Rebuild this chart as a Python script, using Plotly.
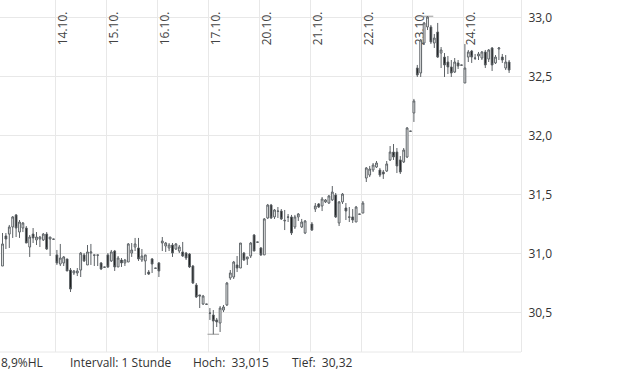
import plotly.graph_objects as go

# hourly candles, 15 per trading day (index 0 = first visible candle on 13.10.)
day_labels = ["14.10.", "15.10.", "16.10.", "17.10.", "20.10.", "21.10.", "22.10.", "23.10.", "24.10."]
day_start = [16, 31, 46, 61, 76, 91, 106, 121, 136]

open_ = [30.898, 31.153, 31.169, 31.229, 31.331, 31.186, 31.220, 31.220, 31.059, 31.169,
         31.119, 31.127, 31.119, 31.169, 31.127, 31.127,
         30.992, 30.915, 30.924, 30.958, 30.864, 30.839, 30.839, 30.864, 30.992, 30.907,
         31.008, 30.992, 30.992, 30.924, 30.890,
         30.992, 30.941, 31.025, 30.890, 30.949, 30.924, 30.932, 31.008, 31.059, 31.051,
         30.949, 30.941, 30.847, 30.958, 30.881,
         30.924, 31.093, 31.068, 31.051, 31.076, 31.042, 31.025, 31.017, 31.008, 31.000,
         30.898, 30.737, 30.653, 30.576, 30.576,
         30.500, 30.483, 30.441, 30.415, 30.525, 30.568, 30.797, 30.805, 30.907, 30.881,
         31.008, 30.958, 30.983, 31.161, 31.102,
         31.051, 30.992, 31.305, 31.415, 31.314, 31.364, 31.364, 31.280, 31.314, 31.314,
         31.229, 31.314, 31.229, 31.178, None,
         31.254, 31.381, 31.424, 31.407, 31.441, 31.432, 31.458, 31.500, 31.263, 31.441,
         31.390, 31.314, 31.314, 31.271, 31.339,
         31.347, 31.644, 31.669, 31.712, 31.737, 31.712, 31.695, 31.703, 31.797, 31.864,
         31.864, 31.797, 31.780, 31.822, 32.042,
         32.195, 32.576, 32.534, 32.788, 32.924, 32.924, 32.788, 32.881, 32.703, 32.669,
         32.627, 32.585, 32.542, 32.619, 32.602,
         32.449, 32.669, 32.720, 32.661, 32.678, 32.661, 32.712, 32.652, 32.746, 32.619,
         32.737, 32.669, 32.576, 32.627]
high = [31.178, 31.178, 31.246, 31.322, 31.339, 31.288, 31.271, 31.237, 31.161, 31.220,
        31.186, 31.153, 31.178, 31.186, 31.144, 31.127,
        31.034, 31.085, 30.983, 30.958, 30.881, 30.864, 30.881, 31.017, 31.008, 31.076,
        31.085, 30.992, 30.992, 30.932, 30.890,
        31.008, 31.034, 31.034, 30.983, 30.966, 30.958, 31.093, 31.093, 31.136, 31.136,
        31.042, 30.992, 30.864, 30.966, 30.881,
        30.932, 31.144, 31.102, 31.093, 31.093, 31.093, 31.076, 31.102, 31.017, 31.008,
        30.907, 30.754, 30.653, 30.653, 30.576,
        30.542, 30.525, 30.458, 30.559, 30.568, 30.763, 30.864, 30.941, 30.983, 31.093,
        31.017, 30.975, 31.102, 31.169, 31.102,
        31.059, 31.305, 31.424, 31.424, 31.381, 31.398, 31.381, 31.373, 31.339, 31.331,
        31.331, 31.347, 31.297, 31.288, None,
        31.271, 31.432, 31.432, 31.483, 31.466, 31.500, 31.576, 31.517, 31.449, 31.517,
        31.432, 31.398, 31.381, 31.407, 31.339,
        31.449, 31.737, 31.746, 31.771, 31.788, 31.729, 31.712, 31.788, 31.915, 31.932,
        31.898, 31.830, 31.898, 32.076, 32.042,
        32.314, 32.602, 32.822, 32.966, 33.015, 32.941, 32.864, 32.958, 32.754, 32.703,
        32.678, 32.644, 32.661, 32.644, 32.602,
        32.780, 32.729, 32.729, 32.695, 32.712, 32.720, 32.729, 32.737, 32.754, 32.686,
        32.754, 32.695, 32.686, 32.644]
low = [30.898, 31.042, 31.051, 31.136, 31.144, 31.136, 31.186, 31.093, 30.975, 31.093,
       31.076, 31.059, 31.110, 31.034, 30.983, 31.127,
       30.907, 30.898, 30.898, 30.856, 30.678, 30.822, 30.813, 30.805, 30.932, 30.907,
       30.907, 30.898, 30.898, 30.864, 30.890,
       30.881, 30.932, 30.856, 30.890, 30.890, 30.898, 30.932, 30.975, 31.025, 30.941,
       30.932, 30.822, 30.822, 30.839, 30.881,
       30.805, 31.025, 31.017, 31.025, 30.975, 31.034, 31.008, 30.975, 30.949, 30.881,
       30.746, 30.627, 30.542, 30.568, 30.576,
       30.441, 30.320, 30.381, 30.339, 30.508, 30.559, 30.780, 30.788, 30.847, 30.881,
       30.941, 30.907, 30.966, 31.025, 31.093,
       30.983, 30.992, 31.297, 31.297, 31.297, 31.305, 31.288, 31.203, 31.271, 31.161,
       31.212, 31.280, 31.220, 31.169, None,
       31.195, 31.356, 31.390, 31.364, 31.432, 31.424, 31.449, 31.305, 31.237, 31.424,
       31.288, 31.271, 31.263, 31.271, 31.339,
       31.347, 31.610, 31.652, 31.695, 31.729, 31.652, 31.636, 31.695, 31.788, 31.797,
       31.686, 31.678, 31.771, 31.813, 32.042,
       32.119, 32.500, 32.500, 32.771, 32.898, 32.780, 32.746, 32.661, 32.576, 32.500,
       32.525, 32.500, 32.534, 32.568, 32.602,
       32.449, 32.627, 32.619, 32.644, 32.644, 32.644, 32.576, 32.627, 32.551, 32.610,
       32.644, 32.619, 32.559, 32.534]
close = [31.085, 31.127, 31.229, 31.314, 31.220, 31.271, 31.263, 31.093, 31.144, 31.136,
         31.144, 31.144, 31.169, 31.042, 31.144, 31.125,
         30.924, 30.966, 30.975, 30.856, 30.703, 30.856, 30.856, 31.008, 30.941, 31.017,
         31.017, 30.990, 30.990, 30.873, 30.888,
         30.890, 31.017, 30.890, 30.966, 30.924, 30.949, 31.085, 31.034, 31.085, 30.958,
         30.983, 30.992, 30.830, 30.915, 30.879,
         30.856, 31.110, 31.093, 31.076, 31.008, 31.085, 31.059, 30.983, 30.966, 30.890,
         30.754, 30.636, 30.644, 30.644, 30.574,
         30.498, 30.432, 30.424, 30.542, 30.551, 30.754, 30.839, 30.932, 30.881, 31.093,
         30.949, 30.975, 31.093, 31.025, 31.100,
         30.992, 31.297, 31.415, 31.305, 31.373, 31.362, 31.297, 31.285, 31.312, 31.178,
         31.314, 31.339, 31.271, 31.280, None,
         31.203, 31.407, 31.398, 31.466, 31.458, 31.492, 31.525, 31.314, 31.441, 31.508,
         31.364, 31.312, 31.288, 31.398, 31.337,
         31.432, 31.729, 31.720, 31.754, 31.771, 31.669, 31.678, 31.763, 31.864, 31.822,
         31.746, 31.695, 31.881, 32.068, 32.040,
         32.297, 32.517, 32.813, 32.958, 33.008, 32.797, 32.830, 32.669, 32.729, 32.602,
         32.585, 32.534, 32.627, 32.593, 32.600,
         32.576, 32.712, 32.669, 32.659, 32.695, 32.712, 32.602, 32.729, 32.602, 32.669,
         32.746, 32.644, 32.627, 32.559]

y_ticks = [30.5, 31.0, 31.5, 32.0, 32.5, 33.0]
info_texts = ["8,9%HL", "Intervall: 1 Stunde", "Hoch:\u00a0\u00a033,015", "Tief:\u00a0\u00a030,32"]

idx = [i for i in range(len(open_)) if open_[i] is not None]
xs = idx
o = [open_[i] for i in idx]
h = [high[i] for i in idx]
l = [low[i] for i in idx]
c = [close[i] for i in idx]

X_RANGE = [-0.735, 152.5]
Y_RANGE = [30.1694, 33.1525]

edge = "#5d6266"
fig = go.Figure()

# markers for the period high and low (base axes, below the candles)
i_hi = max(xs, key=lambda i: high[i])
i_lo = min(xs, key=lambda i: low[i])
for i_ext, val in [(i_hi, high[i_hi]), (i_lo, low[i_lo])]:
    fig.add_trace(go.Scatter(x=[i_ext - 1.7, i_ext + 1.7], y=[val, val], mode="lines",
                             line=dict(color="#999999", width=1), showlegend=False,
                             hoverinfo="skip"))

fig.add_trace(go.Candlestick(
    x=xs, open=o, high=h, low=l, close=c, xaxis="x2", yaxis="y2",
    increasing=dict(fillcolor="#ffffff", line=dict(color=edge, width=1)),
    decreasing=dict(fillcolor="#111111", line=dict(color=edge, width=1)),
    whiskerwidth=0, showlegend=False, hoverinfo="skip",
))

grid = "#e8e8e8"
fig.update_layout(
    width=620, height=372,
    margin=dict(l=0, r=99, t=0, b=20),
    paper_bgcolor="white", plot_bgcolor="white",
    separators=",.",
    font=dict(family="Open Sans", size=12, color="#333333"),
    boxgap=0.25,
    # base axes: day labels (inside, top) and vertical grid
    xaxis=dict(
        range=X_RANGE, rangeslider=dict(visible=False),
        tickmode="array", tickvals=[d - 0.5 for d in day_start], ticktext=day_labels,
        side="top", ticklabelposition="inside", tickangle=-90, ticks="",
        ticklabelshift=8, ticklabelstandoff=2,
        showgrid=True, gridcolor=grid, gridwidth=1, zeroline=False, showline=False,
        layer="below traces", tickfont=dict(size=12, color="#444444"),
    ),
    yaxis=dict(range=Y_RANGE, showgrid=False, showticklabels=False, ticks="",
               zeroline=False, showline=False),
    # overlay axes: price scale on the right, candles
    xaxis2=dict(range=X_RANGE, overlaying="x", anchor="y2", showticklabels=False,
                ticks="", rangeslider=dict(visible=False), showgrid=False,
                zeroline=False, showline=False),
    yaxis2=dict(
        range=Y_RANGE, overlaying="y", anchor="x2", side="right",
        tickmode="array", tickvals=y_ticks, tickformat=".1f", ticks="",
        showgrid=True, gridcolor=grid, gridwidth=1, zeroline=False,
        showline=True, linecolor=grid, linewidth=1, layer="below traces",
        tickfont=dict(size=12, color="#333333"), ticklabelstandoff=4,
    ),
    shapes=[dict(type="line", xref="paper", yref="paper", x0=0, x1=1, y0=0, y1=0,
                 line=dict(color=grid, width=1), layer="below")],
)

x_px = [0, 69, 192, 291]
for t, px in zip(info_texts, x_px):
    fig.add_annotation(text=t, xref="paper", yref="paper", x=px / 521, y=0,
                       xanchor="left", yanchor="top", yshift=-1, showarrow=False,
                       borderpad=0, font=dict(size=12, color="#333333"))

fig.write_html("out.html")
